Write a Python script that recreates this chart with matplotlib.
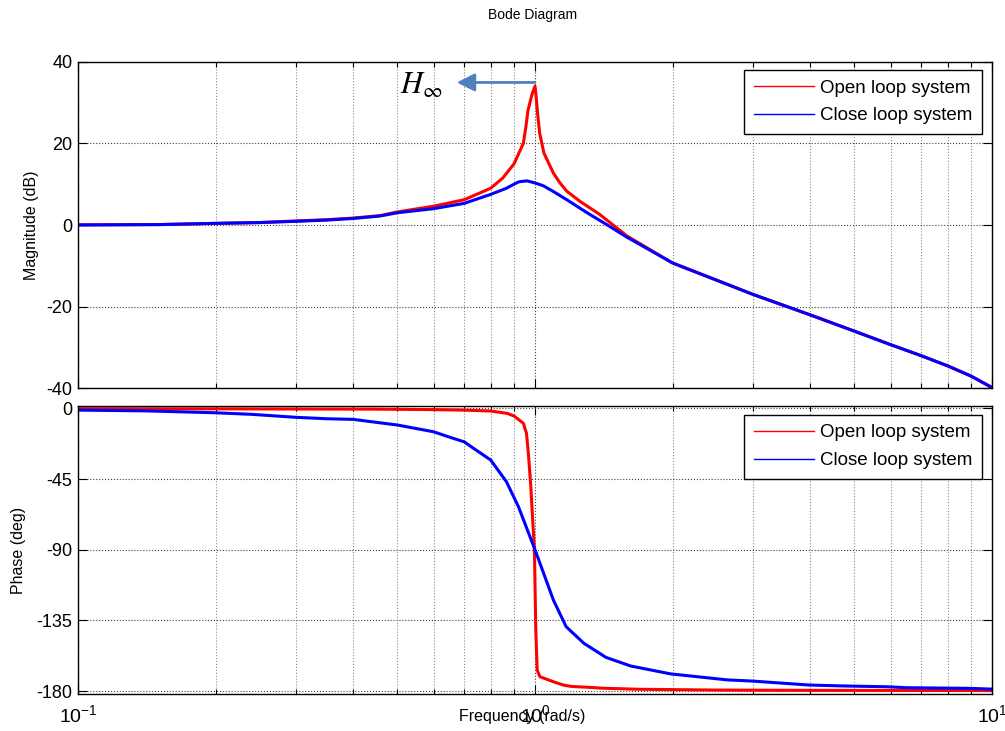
import numpy as np
import matplotlib.pyplot as plt
from matplotlib.lines import Line2D
from matplotlib.ticker import LogLocator, NullFormatter

plt.rcParams['font.family'] = 'Liberation Sans'
plt.rcParams['mathtext.fontset'] = 'custom'
plt.rcParams['mathtext.rm'] = 'Liberation Sans'
plt.rcParams['mathtext.it'] = 'Liberation Sans:italic'
plt.rcParams['axes.unicode_minus'] = False

# magnitude, open loop (rad/s, dB)
w_ol_mag = [0.1, 0.15, 0.2, 0.25, 0.3, 0.35, 0.4, 0.458, 0.5, 0.6, 0.7, 0.8, 0.85,
            0.9, 0.943, 0.955, 0.965, 0.985, 1.0, 1.006, 1.013, 1.024, 1.046, 1.097,
            1.134, 1.173, 1.254, 1.385, 1.59, 2.0, 3.0, 4.0, 5.0, 6.0, 7.0, 8.0, 9.0, 10.0]
mag_ol = [0.05, 0.1, 0.4, 0.6, 1.0, 1.3, 1.7, 2.3, 3.2, 4.6, 6.2, 9.0, 11.5,
          15.0, 20.0, 24.0, 28.0, 32.0, 34.0, 31.3, 27.3, 22.4, 17.6, 12.7,
          10.3, 8.3, 5.8, 2.6, -2.7, -9.3, -17.0, -22.0, -26.0, -29.3, -32.0, -34.5, -37.0, -39.8]

# magnitude, closed loop
w_cl_mag = [0.1, 0.15, 0.2, 0.25, 0.3, 0.35, 0.4, 0.458, 0.5, 0.6, 0.7, 0.8, 0.866,
            0.9, 0.923, 0.96, 1.0, 1.043, 1.097, 1.173, 1.30, 1.435, 1.59, 2.0, 3.0,
            4.0, 5.0, 6.0, 7.0, 8.0, 9.0, 10.0]
mag_cl = [0.0, 0.1, 0.4, 0.6, 0.9, 1.2, 1.6, 2.2, 3.0, 4.0, 5.3, 7.5, 9.0,
          10.0, 10.6, 10.8, 10.3, 9.6, 8.2, 6.2, 3.0, 0.1, -3.0, -9.3, -17.0,
          -22.0, -26.0, -29.3, -32.0, -34.5, -37.0, -39.8]

# phase, open loop (deg)
w_ol_ph = [0.1, 0.2, 0.3, 0.458, 0.6, 0.7, 0.8, 0.87, 0.9, 0.943, 0.958, 0.967,
           0.978, 0.997, 1.0037, 1.011, 1.025, 1.097, 1.153, 1.2, 1.32, 1.40, 1.69,
           2.5, 4.0, 10.0]
ph_ol = [-0.2, -0.3, -0.4, -0.5, -0.8, -1.1, -1.7, -3.2, -4.9, -9.5, -15.9, -28.6,
         -47.7, -90.0, -140.0, -166.6, -170.8, -174.0, -176.1, -177.0, -177.6, -178.1,
         -178.8, -179.3, -179.5, -179.6]

# phase, closed loop
w_cl_ph = [0.1, 0.141, 0.2, 0.24, 0.3, 0.35, 0.4, 0.5, 0.6, 0.653, 0.7, 0.73, 0.8,
           0.866, 0.92, 1.0, 1.097, 1.17, 1.28, 1.43, 1.62, 1.98, 2.63,
           3.0, 3.98, 4.75, 5.9, 6.5, 8.9, 10.0]
ph_cl = [-1.1, -1.6, -2.8, -3.8, -5.7, -6.6, -7.0, -10.6, -14.9, -18.5, -21.3, -25.0,
         -32.9, -46.7, -62.6, -90.0, -122.0, -139.0, -149.6, -158.5,
         -164.0, -169.0, -172.8, -173.6, -176.1, -176.7, -177.2, -177.8, -178.2, -178.7]

labels = ['Open loop system', 'Close loop system']

fig = plt.figure(figsize=(10.05, 7.31), dpi=100)
ax1 = fig.add_axes([0.0776, 0.4687, 0.9095, 0.4470])
ax2 = fig.add_axes([0.0776, 0.0502, 0.9095, 0.3948])


def style(ax):
    ax.set_xscale('log')
    ax.set_xlim(0.1, 10)
    ax.xaxis.set_minor_locator(LogLocator(base=10, subs=np.arange(2, 10)))
    ax.xaxis.set_minor_formatter(NullFormatter())
    ax.tick_params(which='both', direction='in', top=True, right=True, width=0.8)
    ax.tick_params(which='major', length=6.5)
    ax.tick_params(which='minor', length=3.3)
    ax.tick_params(axis='y', pad=4, labelsize=13)
    ax.tick_params(axis='x', pad=7, labelsize=14)
    ax.grid(True, which='major', ls=':', color='#404040', lw=0.8)
    ax.grid(True, which='minor', axis='x', ls=':', color='#8c8c8c', lw=0.8)
    for s in ax.spines.values():
        s.set_linewidth(1.0)


def add_legend(ax, top):
    handles = [Line2D([], [], color='r', lw=1), Line2D([], [], color='b', lw=1)]
    leg = ax.legend(handles, labels, loc='upper right', bbox_to_anchor=(0.989, top),
                    borderaxespad=0, fontsize=13.5, fancybox=False, framealpha=1,
                    edgecolor='k', borderpad=0.5, handlelength=3.2,
                    handletextpad=0.35, labelspacing=0.57)
    leg.get_frame().set_linewidth(1.0)


# magnitude plot
style(ax1)
ax1.plot(w_ol_mag, mag_ol, color='r', lw=2.2)
ax1.plot(w_cl_mag, mag_cl, color='b', lw=2.2)
ax1.set_ylim(-40, 40)
ax1.set_yticks([-40, -20, 0, 20, 40])
ax1.tick_params(labelbottom=False)
ax1.set_ylabel('Magnitude (dB)', fontsize=11.5)
ax1.yaxis.set_label_coords(-0.043, 0.5)
add_legend(ax1, 0.974)

# peak marker
ax1.annotate('', xy=(0.674, 34.9), xytext=(1.0, 34.9),
             arrowprops=dict(arrowstyle='-|>,head_length=0.9,head_width=0.45',
                             color='#4f81bd', lw=2, mutation_scale=12,
                             shrinkA=0, shrinkB=0))
ax1.text(0.5065, 32.2, r'$H_{\infty}$', fontsize=22, math_fontfamily='stix',
         ha='left', va='baseline')

# phase plot
style(ax2)
ax2.plot(w_ol_ph, ph_ol, color='r', lw=2.2)
ax2.plot(w_cl_ph, ph_cl, color='b', lw=2.2)
ax2.set_ylim(-182, 1.7)
ax2.set_yticks([-180, -135, -90, -45, 0])
ax2.set_ylabel('Phase (deg)', fontsize=11.5)
ax2.yaxis.set_label_coords(-0.057, 0.5)
ax2.set_xlabel('Frequency (rad/s)', fontsize=11.5)
ax2.xaxis.set_label_coords(0.4863, -0.050)
add_legend(ax2, 0.968)

fig.text(0.53, 1 - 15 / 731, 'Bode Diagram', fontsize=10, ha='center', va='center')

fig.savefig('out.png', dpi=100)
